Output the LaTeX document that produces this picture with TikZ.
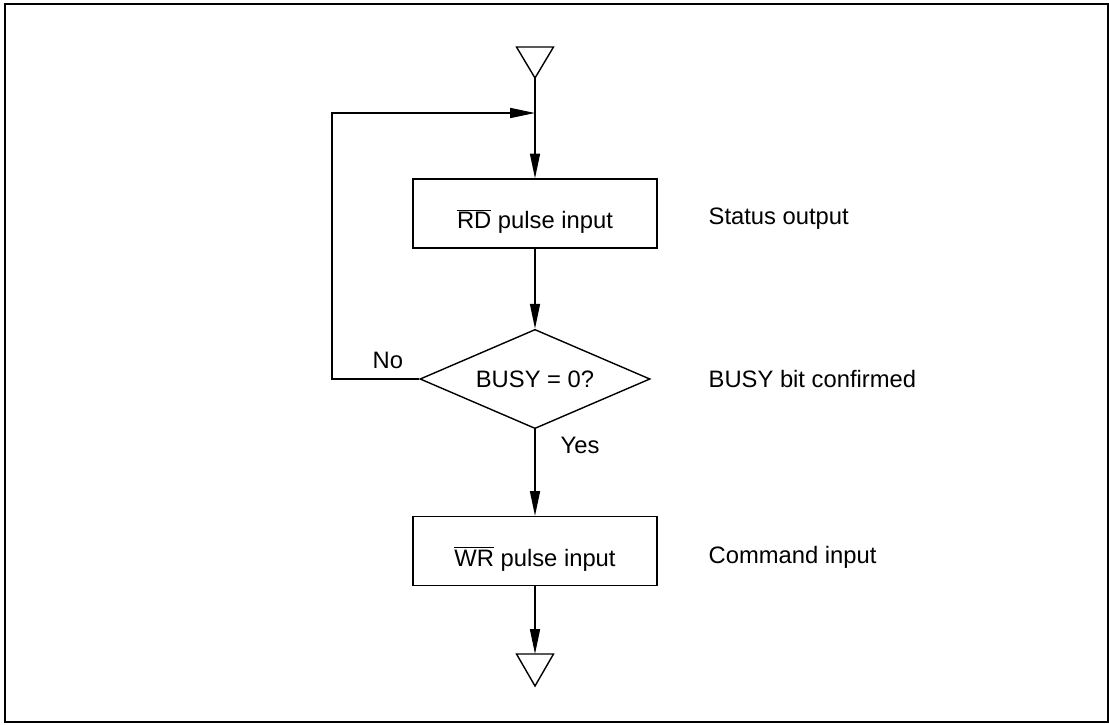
\documentclass[tikz,border=0pt]{standalone}
\usepackage{fontspec}
\setmainfont{Liberation Sans}
\usepackage{tikz}
\usetikzlibrary{arrows.meta, shapes.geometric}

\begin{document}
\begin{tikzpicture}[
    x=0.025cm, y=-0.025cm,
    every node/.style={font=\fontsize{16.9}{20}\selectfont},
    line width=1pt,
    proc/.style={draw, rectangle, minimum width=6.1cm, minimum height=1.72cm,
                 inner sep=0pt, text height=0.75cm, text depth=0pt},
    decide/.style={draw, diamond, shape aspect=2.3, minimum width=5.75cm,
                   minimum height=2.48cm, inner sep=0pt},
    arr/.style={-{Triangle[length=6.2mm, width=2.5mm]}},
    note/.style={anchor=base west, inner sep=0pt},
  ]
    \useasboundingbox (0,0) rectangle (1109,724);
    \draw (5,4) rectangle (1108,722);

    % terminals
    \coordinate (top) at (535,78);
    \draw (top) -- ++(-18.5,-31) -- ++(37,0) -- cycle;
    \coordinate (bot) at (535,654);
    \draw (bot) -- ++(-18.5,0) -- ++(18.5,32) -- ++(18.5,-32) -- cycle;

    % steps
    \node[proc] (rd) at (535,213.5) {$\overline{\mbox{RD}}$ pulse input};
    \node[decide] (busy) at (535,379) {BUSY = 0?};
    \node[proc] (wr) at (535,551) {$\overline{\mbox{WR}}$ pulse input};
    \coordinate (join) at (535,113);

    % flow
    \draw[arr] (top) -- (rd.north);
    \draw[arr] (rd.south) -- (busy.north);
    \draw[arr] (busy.south) -- (wr.north);
    \draw[arr] (wr.south) -- (bot);
    \draw[arr] (busy.west) -- (332,379) -- (332,113) -- (join);
    \node[note] (no) at (372,368) {No};
    \node[note] (yes) at (560,453) {Yes};

    % comments on the right
    \node[note] (c1) at (708,224) {Status output};
    \node[note] (c2) at (708,387) {BUSY bit confirmed};
    \node[note] (c3) at (708,563) {Command input};
  \end{tikzpicture}
\end{document}
